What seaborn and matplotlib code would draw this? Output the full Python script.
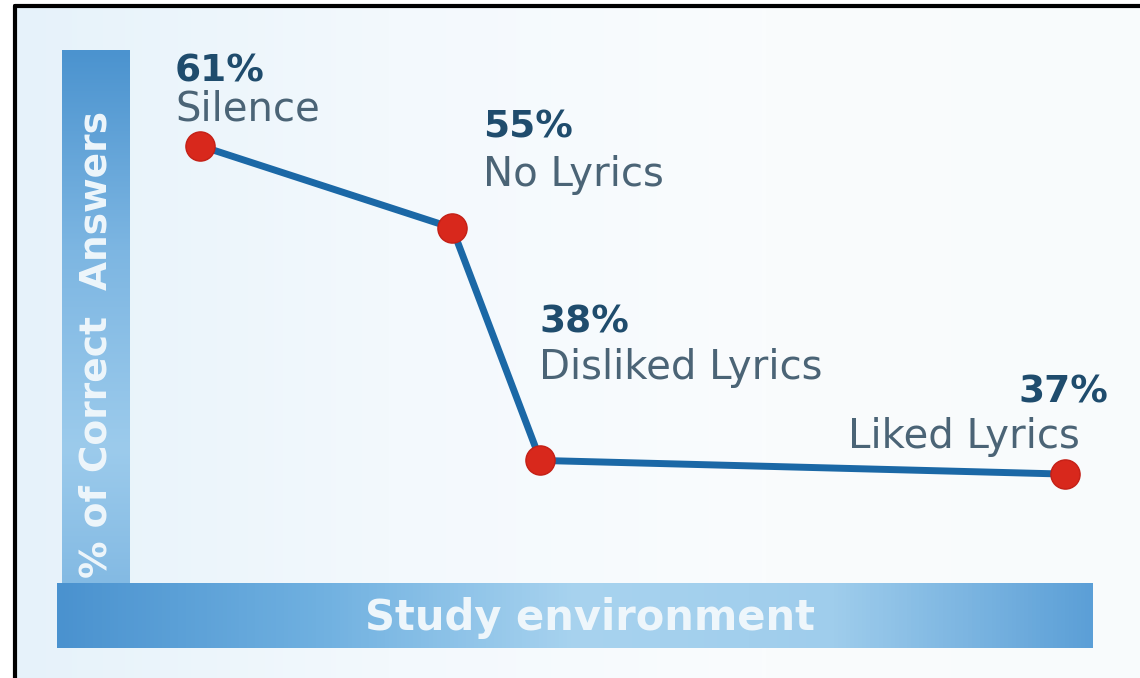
import numpy as np
import pandas as pd
import matplotlib
matplotlib.use("Agg")
import matplotlib.pyplot as plt
import seaborn as sns
from matplotlib.colors import LinearSegmentedColormap
from matplotlib.lines import Line2D

# data
env_labels = ["Silence", "No Lyrics", "Disliked Lyrics", "Liked Lyrics"]
pct_correct = [61, 55, 38, 37]
env_pos = [0, 1, 1.35, 3.43]   # uneven spacing along the "study environment" axis

x_title = "Study environment"
y_title = "% of Correct  Answers"

W, H = 1140, 678

# label offsets in pixels from each point: (dx, dy, align) for percent and name
pct_offsets = [(-25, 74, "left"), (31, 100, "left"), (-1, 138, "left"), (43, 82, "right")]
name_offsets = [(-25, 36, "left"), (31, 53, "left"), (-1, 92, "left"), (15, 37, "right")]


def fig_rect(px_left, px_top, px_w, px_h):
    return [px_left / W, 1 - (px_top + px_h) / H, px_w / W, px_h / H]


def gradient_box(fig, rect, colors, vertical=False):
    gax = fig.add_axes(rect)
    grad = np.linspace(0, 1, 256).reshape(1, -1)
    if vertical:
        grad = grad.T
    cmap = LinearSegmentedColormap.from_list("g", colors)
    gax.imshow(grad, cmap=cmap, aspect="auto", extent=[0, 1, 0, 1])
    gax.set_axis_off()
    return gax


sns.set_theme(style="white")
plt.rcParams["font.family"] = ["DejaVu Sans"]

fig = plt.figure(figsize=(W / 100, H / 100), dpi=100)
fig.patch.set_facecolor("white")

# soft background
gradient_box(fig, fig_rect(15, 7, W - 15, H - 7),
             ["#e6f2fa", "#f3f9fd", "#fafcfd", "#f8fbfc"])

# frame lines (left and top)
fig.add_artist(Line2D([15 / W, 15 / W], [0, 1 - 6 / H], transform=fig.transFigure,
                      color="black", lw=3))
fig.add_artist(Line2D([15 / W, 1], [1 - 6 / H, 1 - 6 / H], transform=fig.transFigure,
                      color="black", lw=3))

# axis bars
gradient_box(fig, fig_rect(62, 50, 68, 598),
             ["#4b93cf", "#7db6e2", "#9ccbec", "#78b2df"], vertical=True)
gradient_box(fig, fig_rect(57, 583, 1036, 65),
             ["#4a92cf", "#6fb0e0", "#a8d3ef", "#9fcdec", "#5b9fd7"])

fig.text(97 / W, 1 - 345 / H, y_title, rotation=90, ha="center", va="center",
         color="#eef6fb", fontsize=27, fontweight="bold", zorder=20)
fig.text(590 / W, 1 - 618 / H, x_title, ha="center", va="center",
         color="#eef6fb", fontsize=30, fontweight="bold", zorder=20)

# plot area
ax = fig.add_axes(fig_rect(130, 50, 963, 533))
ax.patch.set_alpha(0)

df = pd.DataFrame({"env": env_labels, "pos": env_pos, "pct": pct_correct})
sns.lineplot(data=df, x="pos", y="pct", ax=ax, color="#1b68a6", linewidth=5,
             marker="o", markersize=21, markerfacecolor="#d8281c",
             markeredgecolor="#c42016", markeredgewidth=1, sort=False)
for ln in ax.lines:
    ln.set_clip_on(False)

ax.set_xlim(-0.2776, 3.541)
ax.set_ylim(29.04, 68.0)
ax.set_axis_off()

for i, row in df.iterrows():
    dx, dy, ha = pct_offsets[i]
    ax.annotate(f"{row.pct}%", xy=(row.pos, row.pct), xytext=(dx, dy),
                textcoords="offset pixels", ha=ha, va="center",
                fontsize=27, fontweight="bold", color="#1f4c6d")
    dx, dy, ha = name_offsets[i]
    ax.annotate(row.env, xy=(row.pos, row.pct), xytext=(dx, dy),
                textcoords="offset pixels", ha=ha, va="center",
                fontsize=29, color="#4b6476")

fig.savefig("out.png", dpi=100)
